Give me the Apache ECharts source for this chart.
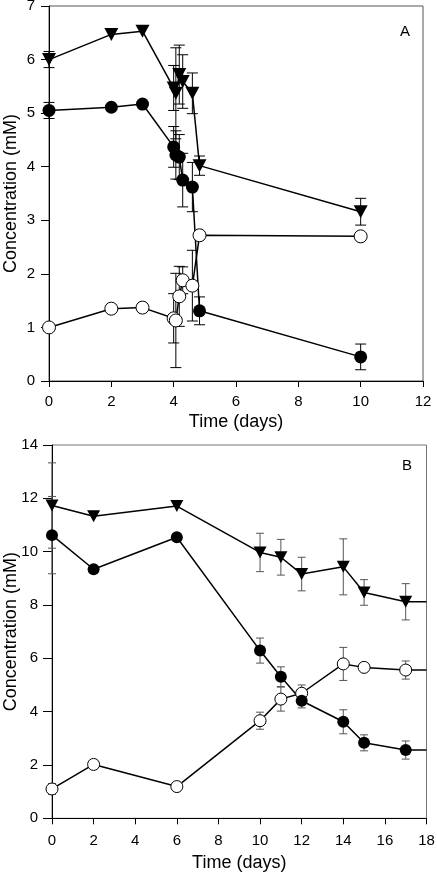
<!DOCTYPE html>
<html><head><meta charset="utf-8">
<script src="https://cdn.jsdelivr.net/npm/echarts@6/dist/echarts.min.js"></script>
<style>html,body{margin:0;padding:0;background:#fff}#c{width:437px;height:873px}</style>
</head><body><div id="c"></div>
<script>
// ---------- Panel A data ----------
const timeA = [0, 2, 3, 4.0, 4.07, 4.18, 4.29, 4.6, 4.83, 10];
const triA = [6.0, 6.47, 6.53, 5.47, 5.37, 5.72, 5.59, 5.37, 4.02, 3.16];
const triErrA = [0.15, 0, 0, 0.42, 0.85, 0.55, 0.5, 0.38, 0.18, 0.25];
const filledA = [5.05, 5.11, 5.17, 4.37, 4.22, 4.18, 3.75, 3.62, 1.31, 0.45];
const filledErrA = [0.15, 0, 0, 0.38, 0.45, 0.42, 0.5, 0.46, 0.26, 0.24];
const openA = [1.0, 1.35, 1.37, 1.17, 1.13, 1.58, 1.88, 1.78, 2.72, 2.70];
const openErrA = [0, 0, 0, 0.46, 0.88, 0.56, 0.25, 0.66, 0, 0];
// ---------- Panel B data ----------
const timeB = [0, 2, 6, 10, 11, 12, 14, 15, 17, 18];
const triB = [11.73, 11.33, 11.71, 9.97, 9.79, 9.16, 9.43, 8.47, 8.12, 8.12];
const triErrB = [1.6, 0, 0, 0.72, 0.67, 0.63, 1.05, 0.48, 0.68, 0];
const filledB = [10.62, 9.34, 10.54, 6.29, 5.31, 4.41, 3.62, 2.83, 2.56, 2.56];
const filledErrB = [1.45, 0, 0, 0.47, 0.37, 0.27, 0.45, 0.3, 0.34, 0];
const openB = [1.1, 2.02, 1.19, 3.66, 4.47, 4.69, 5.79, 5.66, 5.56, 5.56];
const openErrB = [0.2, 0, 0, 0.32, 0.45, 0.31, 0.62, 0.1, 0.34, 0];
// hidden marker at last point of B (line runs to the edge)
const hideLastB = true;

const FONT = "'Liberation Sans', Arial, sans-serif";
const chart = echarts.init(document.getElementById('c'), null, {renderer:'canvas'});

function errSeries(gi, xs, ys, es, color, cap) {
  const data = xs.map((x,i)=>[x, ys[i], es[i]]).filter(d=>d[2]>0);
  return {
    type:'custom', xAxisIndex:gi, yAxisIndex:gi, data, z:1, silent:true, clip:false,
    encode:{x:0, y:1},
    renderItem:(params, api)=>{
      const x=api.value(0), y=api.value(1), e=api.value(2);
      const hi=api.coord([x,y+e]), lo=api.coord([x,y-e]);
      const style={stroke:color, lineWidth:1};
      return {type:'group', children:[
        {type:'line', shape:{x1:hi[0],y1:hi[1],x2:lo[0],y2:lo[1]}, style},
        {type:'line', shape:{x1:hi[0]-cap,y1:hi[1],x2:hi[0]+cap,y2:hi[1]}, style},
        {type:'line', shape:{x1:lo[0]-cap,y1:lo[1],x2:lo[0]+cap,y2:lo[1]}, style}
      ]};
    }
  };
}

function lineSeries(gi, xs, ys, kind, size, hideLast) {
  const data = xs.map((x,i)=>{
    const d = {value:[x, ys[i]]};
    if (hideLast && i === xs.length-1) d.symbol = 'none';
    return d;
  });
  const s = {
    type:'line', xAxisIndex:gi, yAxisIndex:gi, data, z:3,
    lineStyle:{color:'#000', width:1.5},
    showAllSymbol:true, animation:false, silent:true
  };
  if (kind === 'tri') {
    s.symbol = 'triangle'; s.symbolSize = [size+1, size]; s.symbolRotate = 180;
    s.itemStyle = {color:'#000', borderColor:'#000', borderWidth:0};
  } else if (kind === 'filled') {
    s.symbol = 'circle'; s.symbolSize = size;
    s.itemStyle = {color:'#000', borderColor:'#000', borderWidth:0};
  } else {
    s.symbol = 'circle'; s.symbolSize = size;
    s.itemStyle = {color:'#fff', borderColor:'#000', borderWidth:1};
  }
  return s;
}

function xAxisCfg(gi, max, gap, margin) {
  return {
    gridIndex:gi, type:'value', min:0, max:max, interval:2,
    axisLine:{show:true, lineStyle:{color:'#000', width:1}},
    axisTick:{show:true, inside:false, length:6, lineStyle:{color:'#000'}},
    axisLabel:{color:'#000', fontSize:15, fontFamily:FONT, margin:margin},
    splitLine:{show:false},
    name:'Time (days)', nameLocation:'middle', nameGap:gap, nameMoveOverlap:false,
    nameTextStyle:{fontSize:18, color:'#000', fontFamily:FONT}
  };
}
function yAxisCfg(gi, max, interval, tick, gap) {
  return {
    gridIndex:gi, type:'value', min:0, max:max, interval:interval,
    axisLine:{show:true, lineStyle:{color:'#000', width:1}},
    axisTick:{show:true, inside:false, length:tick, lineStyle:{color:'#000'}},
    axisLabel:{color:'#000', fontSize:15, fontFamily:FONT, margin:14},
    splitLine:{show:false},
    name:'Concentration (mM)', nameLocation:'middle', nameGap:gap, nameMoveOverlap:false,
    nameTextStyle:{fontSize:18, color:'#000', fontFamily:FONT}
  };
}

chart.setOption({
  animation:false,
  backgroundColor:'#fff',
  grid:[
    {left:49, top:6, width:374, height:375, show:true, borderColor:'#555', borderWidth:1, containLabel:false, outerBoundsMode:'none'},
    {left:52, top:445, width:374.5, height:373.3, show:true, borderColor:'#777', borderWidth:1, containLabel:false, outerBoundsMode:'none'}
  ],
  xAxis:[xAxisCfg(0, 12, 32, 13), xAxisCfg(1, 18, 36, 15)],
  yAxis:[yAxisCfg(0, 7, 1, 8, 29), yAxisCfg(1, 14, 2, 9, 32)],
  graphic:[
    {type:'text', left:400, top:24, style:{text:'A', fontSize:15, fontFamily:FONT, fill:'#000'}},
    {type:'text', left:402, top:458, style:{text:'B', fontSize:15, fontFamily:FONT, fill:'#000'}}
  ],
  series:[
    errSeries(0, timeA, triA, triErrA, '#000', 5.5),
    errSeries(0, timeA, filledA, filledErrA, '#000', 5.5),
    errSeries(0, timeA, openA, openErrA, '#000', 5.5),
    lineSeries(0, timeA, openA, 'open', 13, false),
    lineSeries(0, timeA, triA, 'tri', 13, false),
    lineSeries(0, timeA, filledA, 'filled', 13, false),
    errSeries(1, timeB, triB, triErrB, '#555', 4),
    errSeries(1, timeB, filledB, filledErrB, '#555', 4),
    errSeries(1, timeB, openB, openErrB, '#555', 4),
    lineSeries(1, timeB, openB, 'open', 12, hideLastB),
    lineSeries(1, timeB, triB, 'tri', 12, hideLastB),
    lineSeries(1, timeB, filledB, 'filled', 12, hideLastB)
  ]
});
</script></body></html>
